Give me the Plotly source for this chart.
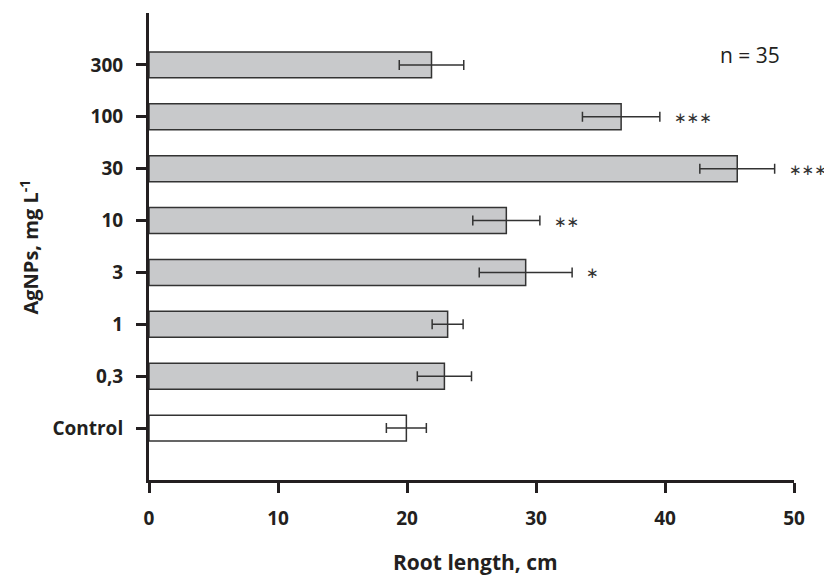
import plotly.graph_objects as go

categories = ["Control", "0,3", "1", "3", "10", "30", "100", "300"]
root_length = [19.95, 22.9, 23.15, 29.2, 27.7, 45.6, 36.6, 21.9]
std_err = [1.55, 2.1, 1.2, 3.6, 2.6, 2.9, 3.0, 2.5]
significance = ["", "", "", "∗", "∗∗", "∗∗∗", "∗∗∗", ""]
bar_colors = ["#ffffff", "#c8c9cb", "#c8c9cb", "#c8c9cb", "#c8c9cb", "#c8c9cb", "#c8c9cb", "#c8c9cb"]
x_ticks = [0, 10, 20, 30, 40, 50]

ink = "#231f20"
fig = go.Figure()
fig.add_trace(go.Bar(
    y=categories, x=root_length, orientation="h",
    marker=dict(color=bar_colors, line=dict(color="#333333", width=1.5)),
    width=0.5,
    error_x=dict(type="data", array=std_err, visible=True,
                 color="#333333", thickness=1.5, width=5),
    showlegend=False,
))

for i, (v, e, s) in enumerate(zip(root_length, std_err, significance)):
    if s:
        fig.add_annotation(x=v + e, y=i, text=s, showarrow=False,
                           xanchor="left", yanchor="middle", xshift=12, yshift=-1,
                           font=dict(family="DejaVu Sans", size=15, color="#333333"))

fig.add_annotation(x=1.0, y=1.0, xref="paper", yref="paper", text="n = 35",
                   showarrow=False, xanchor="right", yanchor="middle",
                   xshift=-12, yshift=-42,
                   font=dict(family="Open Sans", size=21, color=ink))

fig.add_annotation(x=0.5, y=0, xref="paper", yref="paper", text="Root length, cm",
                   showarrow=False, xanchor="center", yanchor="middle",
                   xshift=4, yshift=-82,
                   font=dict(family="Open Sans", size=21, weight="bold", color=ink))
fig.add_annotation(x=0, y=0.5, xref="paper", yref="paper", text="AgNPs, mg L<sup>-1</sup>",
                   showarrow=False, textangle=-90, xanchor="center", yanchor="middle",
                   xshift=-120, yshift=-1,
                   font=dict(family="Open Sans", size=20, weight="bold", color=ink))

fig.update_layout(
    width=824, height=569,
    margin=dict(l=141, r=38, t=5, b=97),
    plot_bgcolor="white", paper_bgcolor="white",
    bargap=0.5,
    font=dict(family="Open Sans", color=ink),
    xaxis=dict(range=[0, 50], tickvals=x_ticks, showgrid=False, zeroline=False,
               automargin=False,
               showline=True, linecolor=ink, linewidth=3,
               ticks="outside", ticklen=10, tickwidth=3, tickcolor=ink,
               ticklabelstandoff=9,
               tickfont=dict(family="Open Sans", size=19, weight="bold", color=ink)),
    yaxis=dict(range=[-1, 8], showgrid=False, zeroline=False,
               automargin=False,
               showline=True, linecolor=ink, linewidth=3,
               ticks="outside", ticklen=10, tickwidth=3, tickcolor=ink,
               ticklabelstandoff=9,
               tickfont=dict(family="Open Sans", size=19, weight="bold", color=ink)),
)

fig.write_html("out.html")
